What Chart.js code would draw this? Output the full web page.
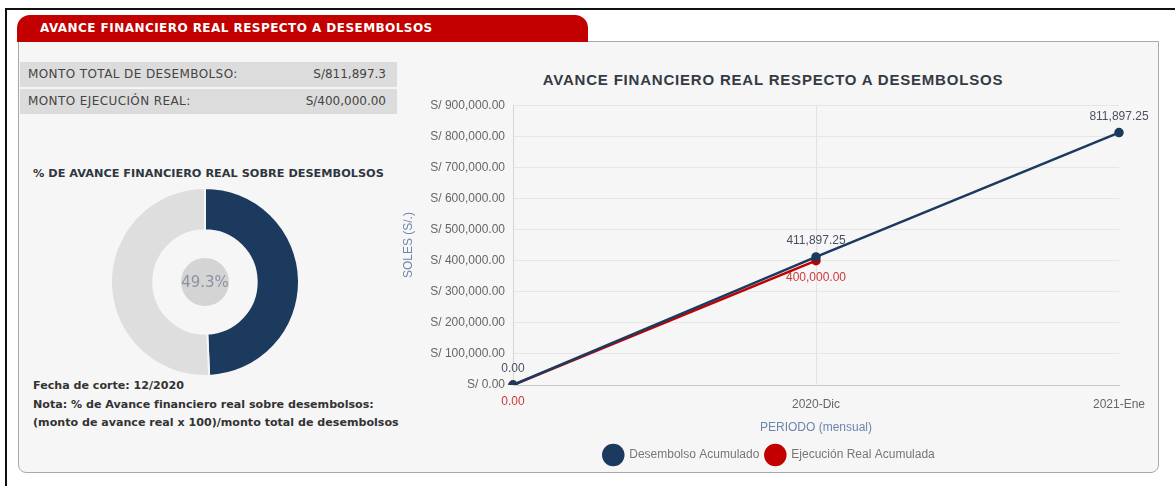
<!DOCTYPE html>
<html lang="es">
<head>
<meta charset="utf-8">
<title>Avance financiero real respecto a desembolsos</title>
<script src="https://cdn.jsdelivr.net/npm/chart.js@4.4.0/dist/chart.umd.min.js"></script>
<style>
  html, body { margin: 0; padding: 0; background: #fff; }
  body { width: 1175px; height: 486px; position: relative; overflow: hidden; font-family: "DejaVu Sans", sans-serif; color: #333; }
  .marco { position: absolute; left: 5px; top: 8px; right: 0; bottom: 0; border-top: 2px solid #111; border-left: 2px solid #111; }
  .panel { position: absolute; left: 18px; top: 41px; width: 1141px; height: 432px; box-sizing: border-box;
           background: #f6f6f6; border: 1px solid #a9a9a9; border-radius: 0 0 8px 8px; }
  .pestana { position: absolute; left: 17px; top: 15px; width: 571px; height: 27px; box-sizing: border-box; padding-left: 23px;
             background: #c20000; border-radius: 13px 13px 0 0; color: #fff; font-weight: 700; font-size: 12px;
             letter-spacing: 0.45px; line-height: 27px; white-space: nowrap; }
  .fila { position: absolute; left: 20px; width: 377px; height: 25px; background: #dcdcdc; font-size: 12px; line-height: 25px; color: #444; }
  .fila .lbl { position: absolute; left: 8px; letter-spacing: 0.4px; }
  .fila .val { position: absolute; right: 11px; }
  .subtitulo { position: absolute; left: 33px; top: 167px; font-size: 11.3px; font-weight: 700; color: #2f3640; white-space: nowrap; }
  .notas { position: absolute; left: 33px; top: 377px; font-size: 11.1px; font-weight: 700; line-height: 18.5px; color: #333; white-space: nowrap; }
  .titulo { position: absolute; left: 473px; width: 600px; top: 71px; text-align: center; font-family: "Liberation Sans", Arial, sans-serif;
            font-size: 15px; font-weight: 700; letter-spacing: 0.8px; color: #343a44; white-space: nowrap; }
  #dona-box { position: absolute; left: 110px; top: 187px; width: 190px; height: 190px; }
  #linea-box { position: absolute; left: 395px; top: 90px; width: 775px; height: 390px; }
</style>
</head>
<body>
<div class="marco"></div>
<div class="panel"></div>
<div class="pestana">AVANCE FINANCIERO REAL RESPECTO A DESEMBOLSOS</div>

<div class="fila" style="top:62px"><span class="lbl">MONTO TOTAL DE DESEMBOLSO:</span><span class="val" id="monto-total"></span></div>
<div class="fila" style="top:89px"><span class="lbl">MONTO EJECUCIÓN REAL:</span><span class="val" id="monto-ejec"></span></div>

<div class="subtitulo">% DE AVANCE FINANCIERO REAL SOBRE DESEMBOLSOS</div>
<div id="dona-box"><canvas id="dona"></canvas></div>
<div class="notas">
  Fecha de corte: 12/2020<br>
  Nota: % de Avance financiero real sobre desembolsos:<br>
  (monto de avance real x 100)/monto total de desembolsos
</div>

<div class="titulo">AVANCE FINANCIERO REAL RESPECTO A DESEMBOLSOS</div>
<div id="linea-box"><canvas id="linea"></canvas></div>

<script>
// Datos del periodo
const periodos               = ['', '2020-Dic', '2021-Ene'];
const desembolsoAcumulado    = [0, 411897.25, 811897.25];
const ejecucionRealAcumulada = [0, 400000, null];
const ticksSoles             = [0, 100000, 200000, 300000, 400000, 500000, 600000, 700000, 800000, 900000];

const montoTotalDesembolso = 'S/811,897.3';
const montoEjecucionReal   = 'S/400,000.00';

const avanceEtiquetas = ['Avance real', 'Por ejecutar'];
const avancePct       = [49.3, 50.7];

const AZUL = '#1b3a5e';
const ROJO = '#c20000';
const FUENTE = '"Liberation Sans", Arial, sans-serif';

const fmt = v => v.toLocaleString('en-US', { minimumFractionDigits: 2, maximumFractionDigits: 2 });

document.getElementById('monto-total').textContent = montoTotalDesembolso;
document.getElementById('monto-ejec').textContent  = montoEjecucionReal;

Chart.defaults.animation = false;
Chart.defaults.font.family = FUENTE;

// Etiquetas de valor sobre/bajo cada punto
const estiloEtiquetas = [
  { color: '#4a5160', dy: -16 },
  { color: '#cc3a3a', dy: 17 },
];
const etiquetasValor = {
  id: 'etiquetasValor',
  afterDatasetsDraw(chart) {
    const { ctx } = chart;
    ctx.save();
    ctx.font = '12px ' + FUENTE;
    ctx.textAlign = 'center';
    ctx.textBaseline = 'middle';
    chart.data.datasets.forEach((ds, i) => {
      const est = estiloEtiquetas[i];
      chart.getDatasetMeta(i).data.forEach((pt, j) => {
        const v = ds.data[j];
        if (v == null) return;
        ctx.fillStyle = est.color;
        ctx.fillText(fmt(v), pt.x, pt.y + est.dy);
      });
    });
    ctx.restore();
  }
};

new Chart(document.getElementById('linea'), {
  type: 'line',
  data: {
    labels: periodos,
    datasets: [
      { label: 'Desembolso Acumulado', data: desembolsoAcumulado,
        borderColor: AZUL, backgroundColor: AZUL, borderWidth: 2.5, pointRadius: 3.5, pointBackgroundColor: AZUL, tension: 0 },
      { label: 'Ejecución Real Acumulada', data: ejecucionRealAcumulada,
        borderColor: ROJO, backgroundColor: ROJO, borderWidth: 2.5, pointRadius: 3.5, pointBackgroundColor: ROJO, tension: 0 },
    ],
  },
  options: {
    responsive: true, maintainAspectRatio: false,
    layout: { padding: { top: 11, right: 51, bottom: 5, left: 24 } },
    plugins: {
      tooltip: { enabled: false },
      legend: {
        position: 'bottom',
        labels: {
          boxWidth: 20, boxHeight: 20, useBorderRadius: true, borderRadius: 10,
          padding: 6, color: '#777', font: { size: 12 },
        },
      },
    },
    scales: {
      x: {
        offset: false,
        afterFit: s => { s.height = 54; },
        grid: { drawTicks: false, color: c => (c.index === periodos.length - 1 ? 'rgba(0,0,0,0)' : '#e2e2e2') },
        border: { color: '#c8c8c8' },
        ticks: { padding: 12, color: '#666', font: { size: 12 }, maxRotation: 0 },
        title: { display: true, text: 'PERIODO (mensual)', color: '#6d86ad', font: { size: 12 }, padding: { top: 0, bottom: 4 } },
      },
      y: {
        min: ticksSoles[0], max: ticksSoles[ticksSoles.length - 1],
        afterFit: s => { s.width = 94; },
        afterBuildTicks: s => { s.ticks = ticksSoles.map(v => ({ value: v })); },
        grid: { drawTicks: false, color: '#e6e6e6' },
        border: { color: '#d6d6d6' },
        ticks: { padding: 8, color: '#666', font: { size: 12 }, callback: v => 'S/ ' + fmt(v) },
        // el título queda a la izquierda del bloque del eje (sobresale hacia el margen)
        title: { display: true, text: 'SOLES (S/.)', color: '#6d86ad', font: { size: 12, lineHeight: 0.6 }, padding: { top: -14, bottom: 0 } },
      },
    },
  },
  plugins: [etiquetasValor],
});

// Dona: porcentaje de avance con círculo central
const centroDona = {
  id: 'centroDona',
  afterDatasetsDraw(chart) {
    const arc = chart.getDatasetMeta(0).data[0];
    const { ctx } = chart;
    ctx.save();
    ctx.beginPath();
    ctx.arc(arc.x, arc.y, 24, 0, Math.PI * 2);
    ctx.fillStyle = '#d4d4d4';
    ctx.fill();
    ctx.font = '15px "DejaVu Sans", sans-serif';
    ctx.fillStyle = '#8a93a3';
    ctx.textAlign = 'center';
    ctx.textBaseline = 'middle';
    ctx.fillText(avancePct[0].toFixed(1) + '%', arc.x, arc.y + 1);
    ctx.restore();
  }
};

new Chart(document.getElementById('dona'), {
  type: 'doughnut',
  data: {
    labels: avanceEtiquetas,
    datasets: [{ data: avancePct, backgroundColor: [AZUL, '#dedede'], borderColor: '#f6f6f6', borderWidth: 2 }],
  },
  options: {
    responsive: true, maintainAspectRatio: false,
    cutout: '55%',
    plugins: { legend: { display: false }, tooltip: { enabled: false } },
  },
  plugins: [centroDona],
});
</script>
</body>
</html>
